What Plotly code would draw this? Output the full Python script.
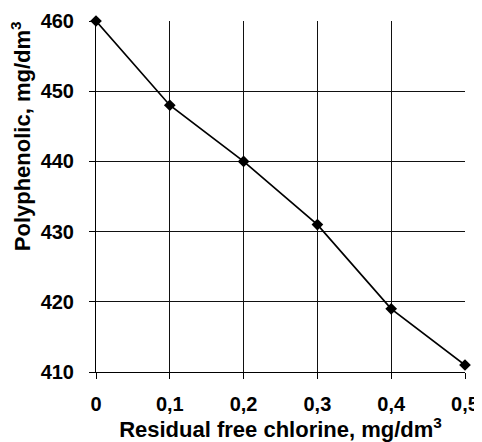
import plotly.graph_objects as go

chlorine = [0, 0.1, 0.2, 0.3, 0.4, 0.5]
polyphenolic = [460, 448, 440, 431, 419, 411]
x_ticks = [0, 0.1, 0.2, 0.3, 0.4, 0.5]
x_ticklabels = ["0", "0,1", "0,2", "0,3", "0,4", "0,5"]
y_ticks = [410, 420, 430, 440, 450, 460]

FAM = "Liberation Sans, Arial, sans-serif"

fig = go.Figure()
fig.add_trace(go.Scatter(
    x=chlorine, y=polyphenolic, mode="lines+markers",
    line=dict(color="black", width=1.7),
    marker=dict(symbol="diamond", size=9, color="black"),
    cliponaxis=False, showlegend=False,
))

tickfont = dict(size=20, family=FAM, color="black", weight="bold")
# page body has an 8px margin, so the figure is sized/offset to compensate
fig.update_layout(
    width=474, height=434,
    margin=dict(l=88, r=17, t=13, b=70),
    plot_bgcolor="white", paper_bgcolor="white",
    font=dict(family=FAM, color="black"),
    xaxis=dict(
        range=[0, 0.5], tickvals=x_ticks, ticktext=x_ticklabels,
        automargin=False, ticklabeloverflow="allow",
        showgrid=True, gridcolor="#111", gridwidth=1,
        showline=True, linecolor="black", linewidth=1,
        ticks="outside", ticklen=6, tickcolor="black",
        ticklabelstandoff=8,
        tickfont=tickfont,
        title=dict(text="<b>Residual free chlorine, mg/dm<sup>3</sup></b>", standoff=0,
                   font=dict(size=22, family=FAM, color="black")),
        zeroline=False,
    ),
    yaxis=dict(
        range=[410, 460], tickvals=y_ticks,
        automargin=False,
        showgrid=True, gridcolor="#111", gridwidth=1,
        showline=True, linecolor="black", linewidth=1,
        ticks="outside", ticklen=6, tickcolor="black",
        ticklabelstandoff=11,
        tickfont=tickfont,
        zeroline=False,
    ),
    annotations=[dict(
        text="<b>Polyphenolic, mg/dm<sup>3</sup></b>",
        textangle=-90, xref="paper", yref="paper",
        x=-0.203, y=0.672, xanchor="center", yanchor="middle",
        showarrow=False, font=dict(size=22, family=FAM, color="black"),
    )],
)
fig.write_html("out.html")
